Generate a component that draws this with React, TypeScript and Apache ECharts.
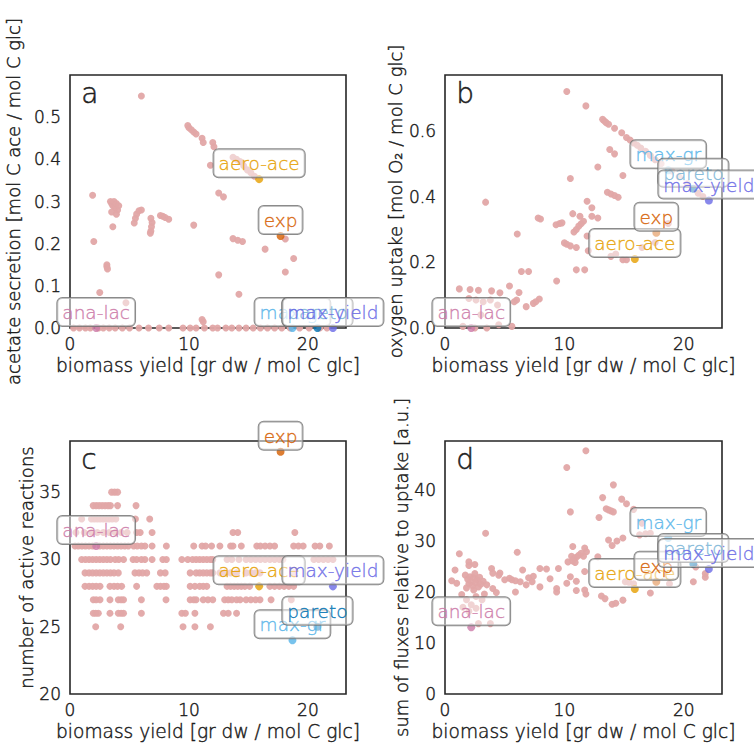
import React, { useEffect, useRef } from "react";
import * as echarts from "echarts";

// ---------- data ----------
const specialNames = ["ana-lac", "aero-ace", "exp", "max-gr", "pareto", "max-yield"];
const specialColors = ["#cc79a7", "#e69f00", "#d55e00", "#56b4e9", "#0072b2", "#6a6ae6"];
const specialYield = [2.2, 15.9, 17.7, 18.7, 20.8, 22.1];
const specialAcetate = [0.0, 0.353, 0.218, 0.0, 0.0, 0.0];
const specialOxygen = [0.0, 0.21, 0.29, 0.48, 0.424, 0.388];
const specialReactions = [31, 28, 38, 24, 25, 28];
const specialFluxSum = [13.1, 20.6, 22.0, 30.6, 25.5, 24.5];

const acetatePoints: [number, number][] = [
  [6.0, 0.55], [9.9, 0.48], [10.0, 0.475], [10.2, 0.47], [10.4, 0.465], [10.6, 0.46], [11.1, 0.45],
  [11.2, 0.44], [12.0, 0.44], [12.1, 0.43], [11.8, 0.386], [13.7, 0.405], [14.0, 0.4], [14.3, 0.395],
  [14.6, 0.385], [14.9, 0.375], [15.2, 0.368], [15.5, 0.36], [1.9, 0.315], [3.4, 0.3], [3.5, 0.295],
  [3.6, 0.29], [3.7, 0.3], [3.8, 0.285], [3.9, 0.295], [4.0, 0.28], [3.5, 0.275], [3.9, 0.27], [4.1, 0.29],
  [5.4, 0.249], [5.5, 0.26], [5.6, 0.27], [5.8, 0.278], [6.0, 0.28], [6.8, 0.26], [6.9, 0.25], [6.85, 0.24],
  [6.8, 0.23], [6.75, 0.225], [7.6, 0.267], [7.8, 0.265], [8.0, 0.262], [8.3, 0.258], [3.6, 0.24],
  [10.4, 0.244], [12.5, 0.32], [12.9, 0.311], [2.0, 0.205], [13.7, 0.212], [14.1, 0.208], [14.5, 0.205],
  [16.4, 0.187], [18.1, 0.211], [18.8, 0.165], [3.1, 0.15], [3.1, 0.145], [3.15, 0.14], [12.5, 0.126],
  [18.1, 0.133], [2.5, 0.084], [4.7, 0.06], [14.2, 0.08], [11.1, 0.02], [11.2, 0.015],
  [0.3, 0], [0.8, 0], [1.3, 0], [1.7, 0], [2.4, 0], [2.8, 0], [3.3, 0], [3.8, 0], [4.4, 0], [5.0, 0],
  [5.8, 0], [6.6, 0], [7.5, 0], [8.3, 0], [9.5, 0], [10.1, 0], [10.6, 0], [11.3, 0], [12.0, 0], [12.4, 0],
  [13.1, 0], [13.6, 0], [14.2, 0], [14.8, 0], [15.4, 0], [16.0, 0], [16.6, 0], [17.2, 0], [17.8, 0],
  [18.5, 0], [19.3, 0], [20.1, 0], [21.0, 0], [21.6, 0],
];

const oxygenPoints: [number, number][] = [
  [10.2, 0.72], [11.8, 0.676], [13.2, 0.635], [13.35, 0.63], [13.5, 0.625], [13.7, 0.62], [14.2, 0.608],
  [14.8, 0.594], [15.2, 0.58], [15.5, 0.572], [15.8, 0.563], [16.1, 0.556], [16.4, 0.548], [16.8, 0.538],
  [17.2, 0.525], [17.6, 0.512], [18.1, 0.5], [19.0, 0.478], [19.6, 0.46], [20.3, 0.44], [21.2, 0.41],
  [21.6, 0.4], [13.8, 0.543], [14.2, 0.53], [12.8, 0.49], [14.9, 0.464], [10.5, 0.455], [13.6, 0.413],
  [13.9, 0.408], [14.2, 0.403], [14.5, 0.398], [11.9, 0.386], [3.4, 0.383], [12.3, 0.366], [10.7, 0.348],
  [11.3, 0.34], [12.3, 0.34], [12.8, 0.335], [11.6, 0.325], [11.4, 0.317], [11.2, 0.31], [11.0, 0.3],
  [10.8, 0.292], [7.8, 0.335], [8.0, 0.332], [9.3, 0.314], [9.6, 0.318], [9.8, 0.32], [11.9, 0.28],
  [18.7, 0.318], [6.05, 0.286], [10.0, 0.259], [10.2, 0.255], [10.5, 0.25], [11.0, 0.245], [12.0, 0.235],
  [13.9, 0.218], [14.3, 0.225], [14.9, 0.208], [15.2, 0.208], [16.5, 0.245], [17.6, 0.26], [6.4, 0.172],
  [7.0, 0.172], [11.0, 0.177], [11.7, 0.177], [9.35, 0.143], [5.4, 0.128], [1.2, 0.119], [2.1, 0.117],
  [2.8, 0.115], [3.9, 0.113], [4.6, 0.107], [6.2, 0.108], [6.0, 0.085], [5.8, 0.08], [6.8, 0.065],
  [7.9, 0.088], [7.6, 0.08], [7.4, 0.075], [2.0, 0.09], [2.6, 0.085], [3.2, 0.08], [3.8, 0.085],
  [4.4, 0.07], [3.0, 0.04], [4.5, 0.01], [5.6, 0.005], [1.5, 0.005], [2.5, 0.0], [3.5, 0.0],
];

const reactionPoints: [number, number][] = [
  [3.5, 35], [3.75, 35], [4.0, 35],
  [1.95, 34], [2.2, 34], [2.45, 34], [2.7, 34], [2.95, 34], [3.2, 34], [3.4, 34], [4.0, 34], [5.55, 34],
  [0.98, 33], [1.8, 33], [2.05, 33], [2.3, 33], [2.55, 33], [2.8, 33], [3.05, 33], [3.3, 33], [3.55, 33],
  [3.85, 33], [5.5, 33], [6.7, 33],
  [0.5, 32], [1.2, 32], [1.8, 32], [2.3, 32], [2.8, 32], [3.3, 32], [3.8, 32], [4.3, 32], [4.8, 32],
  [5.6, 32], [5.9, 32], [6.9, 32], [13.7, 32], [14.1, 32], [18.9, 32],
  [0.42, 31], [0.7, 31], [1.0, 31], [1.3, 31], [1.6, 31], [1.9, 31], [2.5, 31], [2.8, 31], [3.1, 31],
  [3.4, 31], [3.7, 31], [4.0, 31], [4.3, 31], [4.6, 31], [4.9, 31], [5.35, 31], [5.65, 31], [6.0, 31],
  [6.3, 31], [6.9, 31], [8.1, 31], [10.4, 31], [11.1, 31], [11.4, 31], [11.9, 31], [12.6, 31], [13.5, 31],
  [13.7, 31], [14.4, 31], [15.7, 31], [16.0, 31], [16.4, 31], [16.8, 31], [17.2, 31], [18.8, 31],
  [19.2, 31], [19.6, 31], [20.6, 31], [21.0, 31], [21.8, 31],
  [0.98, 30], [1.3, 30], [1.6, 30], [1.9, 30], [2.2, 30], [2.5, 30], [2.8, 30], [3.1, 30], [3.4, 30],
  [3.8, 30], [4.1, 30], [4.5, 30], [5.3, 30], [5.6, 30], [6.0, 30], [6.3, 30], [6.9, 30], [7.8, 30],
  [8.1, 30], [9.4, 30], [9.9, 30], [10.3, 30], [10.6, 30], [10.9, 30], [11.2, 30], [11.5, 30], [11.8, 30],
  [12.0, 30], [13.2, 30], [13.6, 30], [14.2, 30], [14.8, 30], [15.2, 30], [15.6, 30], [16.0, 30],
  [16.4, 30], [16.8, 30], [17.2, 30], [17.6, 30], [17.9, 30], [20.5, 30], [20.9, 30], [21.3, 30],
  [21.7, 30], [22.1, 30],
  [1.26, 29], [1.6, 29], [1.9, 29], [2.2, 29], [2.5, 29], [2.8, 29], [3.1, 29], [3.4, 29], [3.7, 29],
  [4.06, 29], [5.46, 29], [5.8, 29], [6.1, 29], [6.45, 29], [7.6, 29], [8.0, 29], [10.1, 29], [10.6, 29],
  [10.9, 29], [11.2, 29], [11.5, 29], [11.8, 29], [12.0, 29], [12.6, 29], [13.0, 29], [13.5, 29],
  [14.0, 29], [14.8, 29], [15.2, 29], [15.6, 29], [15.97, 29], [18.8, 29],
  [1.26, 28], [1.6, 28], [1.9, 28], [2.2, 28], [2.52, 28], [3.36, 28], [3.7, 28], [4.0, 28], [4.34, 28],
  [5.6, 28], [7.3, 28], [7.6, 28], [7.9, 28], [8.1, 28], [10.1, 28], [10.5, 28], [10.9, 28], [11.2, 28],
  [11.5, 28], [13.2, 28], [13.5, 28], [13.8, 28], [14.1, 28], [14.4, 28], [14.7, 28], [15.1, 28],
  [16.8, 28], [17.2, 28], [17.6, 28], [18.0, 28], [18.4, 28], [18.8, 28],
  [1.96, 27], [2.2, 27], [2.52, 27], [3.36, 27], [4.06, 27], [4.3, 27], [4.5, 27], [6.0, 27], [8.07, 27],
  [10.1, 27], [10.4, 27], [10.6, 27], [11.2, 27], [11.6, 27], [12.0, 27], [13.0, 27], [13.3, 27],
  [13.6, 27], [14.0, 27], [14.3, 27], [14.8, 27], [15.2, 27], [15.6, 27], [15.97, 27], [16.9, 27], [18.6, 27],
  [1.96, 26], [2.16, 26], [2.38, 26], [3.36, 26], [4.06, 26], [4.3, 26], [4.5, 26], [6.0, 26], [9.4, 26],
  [9.7, 26], [10.5, 26], [12.9, 26], [13.3, 26], [14.0, 26],
  [2.16, 25], [4.26, 25], [9.5, 25], [10.5, 25], [11.8, 25],
];

const fluxSumPoints: [number, number][] = [
  [11.8, 47.7], [10.2, 44.4], [14.1, 41.0], [13.2, 38.5], [14.8, 38.2], [15.2, 37.3], [10.5, 35.7],
  [13.5, 36.3], [13.7, 36.1], [13.9, 35.9], [14.1, 35.7], [12.9, 34.6], [15.8, 36.2], [3.4, 31.5],
  [13.7, 30.2], [14.4, 30.0], [14.9, 30.6], [14.0, 29.1], [16.3, 31.2], [16.8, 31.4], [17.2, 31.5],
  [16.5, 33.5], [6.05, 27.8], [1.2, 27.5], [10.7, 28.9], [11.7, 28.6], [11.85, 27.9], [10.6, 27.0],
  [10.8, 26.6], [11.0, 26.8], [11.2, 27.2], [11.4, 27.6], [11.6, 27.0], [10.9, 25.8], [10.7, 26.1],
  [10.3, 25.9], [12.8, 26.9], [2.0, 25.9], [2.5, 25.4], [2.0, 25.2], [0.84, 24.3], [3.9, 24.6], [4.0, 23.7],
  [4.6, 23.7], [6.5, 24.3], [7.95, 24.6], [7.4, 23.1], [9.5, 24.6], [5.4, 22.7], [5.6, 22.4], [5.9, 22.2],
  [6.3, 22.0], [6.8, 21.4], [7.95, 21.0], [0.56, 22.2], [0.98, 21.7], [1.7, 23.3], [1.9, 22.5],
  [2.0, 21.6], [2.1, 23.0], [2.2, 22.0], [2.3, 21.2], [2.4, 22.8], [2.5, 23.6], [2.6, 21.8], [2.7, 22.4],
  [2.8, 21.0], [2.9, 22.9], [3.0, 21.5], [3.2, 22.1], [1.8, 20.8], [2.4, 20.4], [3.3, 19.6], [2.6, 19.1],
  [3.5, 21.4], [4.0, 20.7], [4.3, 19.9], [5.9, 20.0], [9.35, 20.7], [9.35, 20.0], [10.2, 21.7],
  [10.5, 23.0], [11.0, 22.1], [11.0, 20.3], [11.7, 20.4], [11.8, 19.6], [11.7, 24.0], [13.1, 19.2],
  [13.4, 18.7], [14.0, 17.6], [14.3, 17.8], [14.9, 18.4], [15.1, 22.0], [15.4, 21.9], [15.8, 21.6],
  [17.2, 19.8], [18.8, 21.6], [20.8, 22.0], [21.8, 23.6], [21.8, 22.9], [21.0, 24.9], [1.4, 19.5],
  [1.8, 18.5], [2.2, 17.5], [2.6, 16.8], [2.0, 16.2], [2.8, 13.8], [3.8, 13.8], [1.5, 17.0], [3.1, 18.5],
  [4.5, 23.3], [5.0, 22.4], [7.0, 22.8], [7.3, 22.0], [8.5, 24.5], [8.8, 22.6],
];

const xTicksMax = 23.2;
const yMax = [0.6, 0.77, 38.8, 49.6];
const yMin = [0, 0, 20, 0];
const yInterval = [0.1, 0.2, 5, 10];
const yDecimals = [1, 1, 0, 0];
const panelLetters = ["a", "b", "c", "d"];
const yNames = [
  "acetate secretion [mol C ace / mol C glc]",
  "oxygen uptake [mol O\u2082 / mol C glc]",
  "number of active reactions",
  "sum of fluxes relative to uptake [a.u.]",
];
const xName = "biomass yield [gr dw / mol C glc]";

const FONT = "'DejaVu Sans', sans-serif";
const WEIGHT = 200;
const TEXT = "#1e1e1e";

const textThicken = (c: string) => ({ textBorderColor: c, textBorderWidth: 0.45 });

export default function App() {
  const ref = useRef<HTMLDivElement>(null);
  useEffect(() => {
    document.body.style.margin = "0";
    const chart = echarts.init(ref.current!, null, { renderer: "svg" });
    const grids = [
      { left: 70, top: 75, width: 276, height: 253 },
      { left: 445, top: 75, width: 277, height: 253 },
      { left: 70, top: 441, width: 276, height: 253 },
      { left: 445, top: 441, width: 277, height: 253 },
    ];
    const bgSets = [acetatePoints, oxygenPoints, reactionPoints, fluxSumPoints];
    const spY = [specialAcetate, specialOxygen, specialReactions, specialFluxSum];
    const yNameGap = [48, 40, 32, 33];

    const series: any[] = [];
    bgSets.forEach((pts, i) => {
      series.push({
        type: "scatter",
        xAxisIndex: i,
        yAxisIndex: i,
        data: pts,
        symbolSize: 7,
        itemStyle: { color: "#e2a6a6", opacity: 0.95 },
        z: 2,
        silent: true,
      });
      series.push({
        type: "scatter",
        xAxisIndex: i,
        yAxisIndex: i,
        z: 5,
        symbolSize: 8,
        data: specialNames.map((n, k) => ({
          name: n,
          value: [specialYield[k], spY[i][k]],
          itemStyle: { color: specialColors[k] },
          label: { color: specialColors[k], ...textThicken(specialColors[k]) },
        })),
        label: {
          show: true,
          formatter: "{b}",
          position: "top",
          distance: -2,
          fontFamily: FONT,
          fontWeight: WEIGHT,
          fontSize: 18.5,
          backgroundColor: "rgba(255,255,255,0.6)",
          borderColor: "#6e6e6e",
          borderWidth: 1,
          borderRadius: 5,
          padding: [5, 5, 4, 5],
        },
        labelLayout: { hideOverlap: false },
      });
    });

    const axisText = { fontFamily: FONT, fontWeight: WEIGHT, color: TEXT, ...textThicken(TEXT) };

    chart.setOption({
      animation: false,
      backgroundColor: "#ffffff",
      grid: grids.map((g) => ({
        ...g,
        show: true,
        borderColor: "#262626",
        borderWidth: 1.6,
        backgroundColor: "transparent",
        containLabel: false,
      })),
      xAxis: grids.map((_, i) => ({
        type: "value",
        gridIndex: i,
        min: 0,
        max: xTicksMax,
        interval: 10,
        name: xName,
        nameLocation: "middle",
        nameGap: 28,
        nameTextStyle: { ...axisText, fontSize: 18.6 },
        axisLine: { show: false },
        axisTick: { show: false },
        splitLine: { show: false },
        axisLabel: { ...axisText, fontSize: 17, margin: 7, showMaxLabel: false },
      })),
      yAxis: grids.map((_, i) => ({
        type: "value",
        gridIndex: i,
        min: yMin[i],
        max: yMax[i],
        interval: yInterval[i],
        name: yNames[i],
        nameLocation: "middle",
        nameGap: yNameGap[i],
        nameTextStyle: { ...axisText, fontSize: 18 },
        axisLine: { show: false },
        axisTick: { show: false },
        splitLine: { show: false },
        axisLabel: {
          ...axisText,
          fontSize: 17,
          margin: 9,
          showMaxLabel: false,
          formatter: (v: number) => v.toFixed(yDecimals[i]),
        },
      })),
      graphic: grids.map((g, i) => ({
        type: "text",
        left: g.left + 11,
        top: g.top + 4,
        style: {
          text: panelLetters[i],
          fontFamily: FONT,
          fontWeight: WEIGHT,
          fontSize: 28,
          fill: "#1e1e1e",
          stroke: "#1e1e1e",
          lineWidth: 0.5,
        },
        z: 10,
      })),
      series,
    });
    return () => chart.dispose();
  }, []);
  return <div ref={ref} style={{ width: 754, height: 747 }} />;
}
